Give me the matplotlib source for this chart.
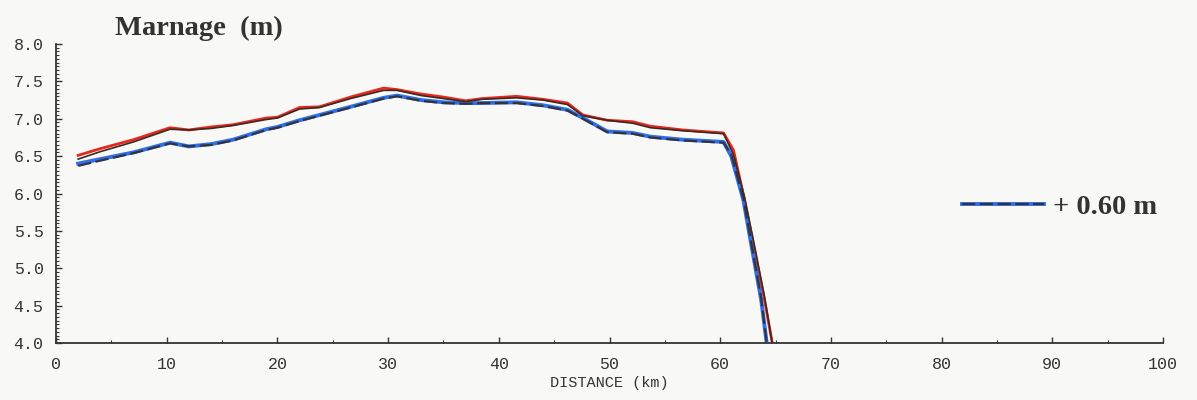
import matplotlib.pyplot as plt
from matplotlib.ticker import MultipleLocator

# distance (km) and water level (m)
km_top = [2, 4, 7, 10.3, 12, 14, 16, 19, 20, 22, 23.8, 26.6, 29.6, 30.8, 33, 35, 37, 38.5, 41.6, 44, 46.2,
          47.6, 49.8, 52.1, 53.7, 56.6, 60.3, 61.2, 62.2, 63.1, 64.0, 64.7]
red = [6.51, 6.60, 6.72, 6.88, 6.85, 6.89, 6.92, 7.01, 7.02, 7.15, 7.16, 7.29, 7.41, 7.39, 7.33, 7.29, 7.24,
       7.27, 7.30, 7.26, 7.21, 7.05, 6.98, 6.96, 6.90, 6.85, 6.81, 6.58, 5.91, 5.24, 4.58, 4.0]
black = [6.46, 6.56, 6.69, 6.86, 6.85, 6.87, 6.91, 6.99, 7.01, 7.13, 7.15, 7.27, 7.38, 7.38, 7.31, 7.27, 7.23,
         7.26, 7.28, 7.25, 7.19, 7.04, 6.98, 6.94, 6.88, 6.84, 6.80, 6.52, 5.95, 5.30, 4.62, 4.0]

km_low = [2, 4, 7, 10.3, 12, 14, 16, 19, 20, 22, 23.8, 26.6, 29.6, 30.8, 33, 35, 37, 38.5, 41.6, 44, 46.2,
          47.6, 49.8, 52.1, 53.7, 56.6, 60.3, 61.0, 62.1, 62.9, 63.7, 64.2]
blue = [6.40, 6.46, 6.55, 6.68, 6.63, 6.66, 6.72, 6.86, 6.89, 6.98, 7.05, 7.16, 7.28, 7.31, 7.25, 7.22, 7.21,
        7.21, 7.22, 7.18, 7.12, 7.01, 6.83, 6.81, 6.76, 6.72, 6.69, 6.50, 5.91, 5.24, 4.58, 4.0]
dashed = [6.37, 6.44, 6.54, 6.67, 6.63, 6.65, 6.71, 6.85, 6.88, 6.97, 7.04, 7.15, 7.27, 7.30, 7.24, 7.21, 7.20,
          7.21, 7.21, 7.17, 7.11, 7.00, 6.82, 6.80, 6.75, 6.71, 6.68, 6.52, 5.93, 5.26, 4.60, 4.0]

bg = '#f8f8f6'
fig = plt.figure(figsize=(11.97, 4.0), dpi=100, facecolor=bg)
ax = fig.add_axes([0.0468, 0.1425, 0.9248, 0.7475], facecolor=bg)

ax.plot(km_top, red, color='#e8281e', lw=2.0, zorder=2)
ax.plot(km_top, black, color='#3a2a22', lw=1.2, zorder=3)
hb, = ax.plot(km_low, blue, color='#2f6fe8', lw=2.8, zorder=2)
hd, = ax.plot(km_low, dashed, color='#333340', lw=1.6, ls=(0, (6, 2)), zorder=3)

ax.set_xlim(0, 100)
ax.set_ylim(4.0, 8.0)
ax.xaxis.set_major_locator(MultipleLocator(10))
ax.xaxis.set_minor_locator(MultipleLocator(5))
ax.yaxis.set_major_locator(MultipleLocator(0.5))
ax.yaxis.set_minor_locator(MultipleLocator(0.05))
ax.yaxis.set_major_formatter(plt.FormatStrFormatter('%.1f'))
ax.tick_params(which='both', direction='in', color='#333333')
ax.tick_params(which='major', length=4, width=1, labelsize=12, labelcolor='#333333')
ax.tick_params(axis='x', which='major', pad=10)
ax.tick_params(axis='y', which='major', pad=9)
ax.tick_params(which='minor', length=2, width=0.8)
for lbl in ax.get_xticklabels() + ax.get_yticklabels():
    lbl.set_family('Liberation Mono')
for s in ['top', 'right']:
    ax.spines[s].set_visible(False)
for s in ['left', 'bottom']:
    ax.spines[s].set_color('#333333')
    ax.spines[s].set_linewidth(1.3)

ax.set_xlabel('DISTANCE (km)', family='Liberation Mono', fontsize=11, color='#333333', labelpad=3)
fig.text(0.096, 0.93, 'Marnage  (m)', family='Liberation Serif', fontsize=20.5, fontweight='bold',
         color='#333333', va='center')

leg = ax.legend([(hb, hd)], ['+ 0.60 m'], loc='center left', bbox_to_anchor=(0.795, 0.455),
                frameon=False, handlelength=2.9, handletextpad=0.3,
                prop={'family': 'Liberation Serif', 'size': 20.5, 'weight': 'bold'})
for t in leg.get_texts():
    t.set_color('#333333')

fig.savefig('out.png', dpi=100, facecolor=bg)
